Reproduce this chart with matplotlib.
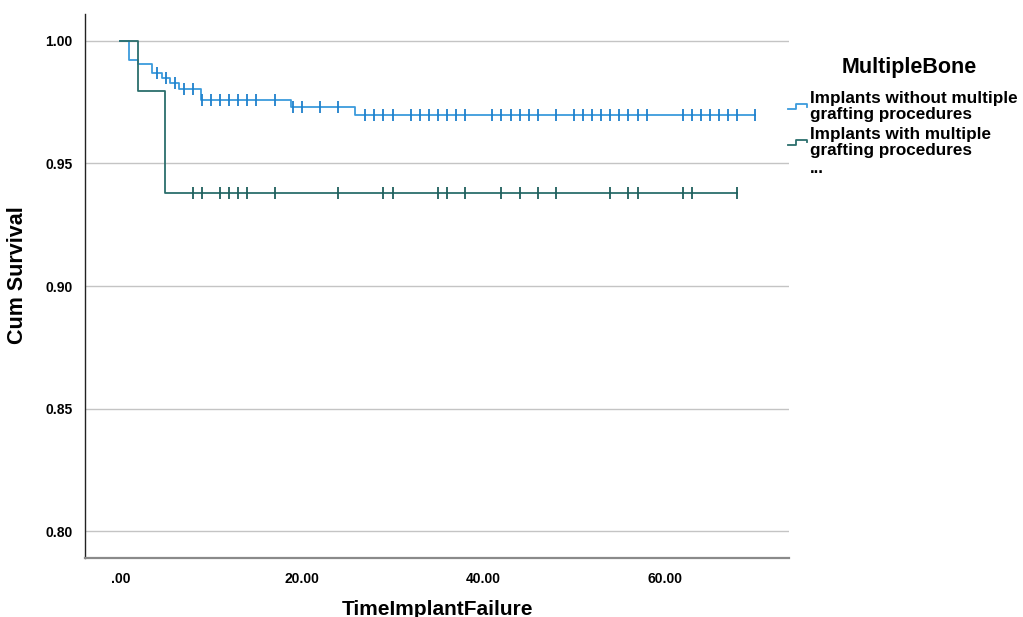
import numpy as np
import matplotlib
matplotlib.use("Agg")
import matplotlib.pyplot as plt
from matplotlib.lines import Line2D
from matplotlib.legend_handler import HandlerBase

plt.rcParams["font.family"] = ["Liberation Sans", "DejaVu Sans"]

# Kaplan-Meier steps (time, cumulative survival after the drop)
without_times = [0.9, 1.95, 3.5, 4.6, 5.5, 6.5, 8.9, 18.8, 25.9]
without_surv = [0.9922, 0.9906, 0.9868, 0.9848, 0.9827, 0.9804, 0.9759, 0.9729, 0.9698]
without_censored = [4, 5, 6, 7, 8, 9, 10, 11, 12, 13, 14, 15, 17, 19, 20, 22, 24,
                    27, 28, 29, 30, 32, 33, 34, 35, 36, 37, 38, 41, 42, 43, 44, 45, 46,
                    48, 50, 51, 52, 53, 54, 55, 56, 57, 58, 62, 63, 64, 65, 66, 67, 68, 70]
without_end = 70

with_times = [1.95, 4.9]
with_surv = [0.9796, 0.9378]
with_censored = [8, 9, 11, 12, 13, 14, 17, 24, 29, 30, 35, 36, 38, 42, 44, 46, 48,
                 54, 56, 57, 62, 63, 68]
with_end = 68

group_labels = ["Implants without multiple\ngrafting procedures",
                "Implants with multiple\ngrafting procedures"]
group_colors = ["#3b9bdc", "#2b6e6c"]
censor_colors = ["#1f80cc", "#1f5f5d"]

x_ticks = [0, 20, 40, 60]
x_ticklabels = [".00", "20.00", "40.00", "60.00"]
y_ticks = [0.80, 0.85, 0.90, 0.95, 1.00]
y_ticklabels = ["0.80", "0.85", "0.90", "0.95", "1.00"]


def km_curve(times, surv, end):
    x = np.array([0.0] + list(times) + [end])
    y = np.array([1.0] + list(surv) + [surv[-1]])
    return x, y


def surv_at(times, surv, t):
    idx = np.searchsorted(times, t, side="right")
    levels = np.array([1.0] + list(surv))
    return levels[idx]


class StepHandler(HandlerBase):
    """Small step-shaped legend key like the SPSS one"""
    def create_artists(self, legend, orig_handle, xdescent, ydescent, width, height, fontsize, trans):
        xs = np.array([0.0, 0.45, 0.45, 1.0, 1.0]) * width - xdescent
        ys = np.array([0.3, 0.3, 0.7, 0.7, 0.5]) * height - ydescent
        line = Line2D(xs, ys, color=orig_handle.get_color(), lw=1.3, transform=trans)
        return [line]


fig = plt.figure(figsize=(10.23, 6.17), dpi=100)
ax = fig.add_axes([0.0831, 0.0956, 0.6882, 0.8817])

groups = [
    (without_times, without_surv, without_censored, without_end),
    (with_times, with_surv, with_censored, with_end),
]

handles = []
for i, (times, surv, cens, end) in enumerate(groups):
    x, y = km_curve(times, surv, end)
    ax.step(x, y, where="post", color=group_colors[i], lw=1.3, zorder=3)
    cy = surv_at(np.array(times), surv, np.array(cens))
    ax.plot(cens, cy, ls="none", marker="|", ms=8, mew=1.3, color=censor_colors[i], zorder=4)
    handles.append(Line2D([0], [0], color=group_colors[i], lw=1.3))

ax.set_xlim(-3.9, 73.7)
ax.set_ylim(0.789, 1.011)
ax.set_xticks(x_ticks)
ax.set_xticklabels(x_ticklabels)
ax.set_yticks(y_ticks)
ax.set_yticklabels(y_ticklabels)
ax.tick_params(length=0, labelsize=10)
ax.tick_params(axis="y", pad=9)
ax.tick_params(axis="x", pad=10)
for lab in ax.get_xticklabels() + ax.get_yticklabels():
    lab.set_fontweight("bold")

ax.grid(axis="y", color="#c4c4c4", lw=1)
ax.set_axisbelow(True)
for side in ["top", "right"]:
    ax.spines[side].set_visible(False)
ax.spines["left"].set_color("#222222")
ax.spines["left"].set_linewidth(1)
ax.spines["bottom"].set_color("#8a8a8a")
ax.spines["bottom"].set_linewidth(1.6)

ax.set_ylabel("Cum Survival", fontsize=15.5, fontweight="bold")
ax.yaxis.set_label_coords(-0.081, 0.52)
ax.set_xlabel("TimeImplantFailure", fontsize=15, fontweight="bold", labelpad=10)

fig.text(0.889, 0.891, "MultipleBone", fontsize=15.5, fontweight="bold", ha="center", va="center")
leg = fig.legend(handles, group_labels, handler_map={Line2D: StepHandler()},
                 loc="upper left", bbox_to_anchor=(0.770, 0.852), frameon=False,
                 prop={"size": 12.3, "weight": "bold"}, handlelength=1.1, handletextpad=0.2,
                 labelspacing=0.3, borderaxespad=0, borderpad=0)
for t in leg.get_texts():
    t.set_linespacing(1.05)
fig.text(0.792, 0.72, "...", fontsize=12, fontweight="bold")

fig.savefig("out.png", dpi=100)
